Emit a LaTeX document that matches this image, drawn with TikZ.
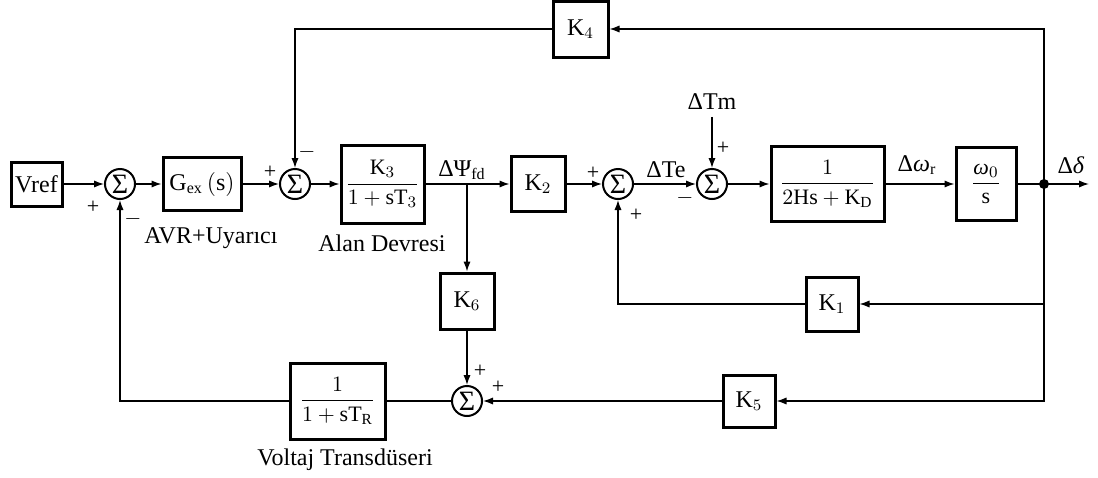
\documentclass[tikz,border=0pt]{standalone}
\usepackage{amsmath}
\usepackage{fontspec}
\setmainfont{Liberation Serif}
\usepackage{tikz}
\usetikzlibrary{
  arrows.meta  % 箭头样式
}

\begin{document}
\begin{tikzpicture}[>={Latex[length=5pt,width=3.6pt]}, x=0.5pt, y=-0.5pt,
  every node/.style={font=\fontsize{12}{14}\selectfont},
  block/.style={draw, line width=1.5pt, inner sep=0pt, fill=white},
  fracbox/.style={block, font=\fontsize{11}{13}\selectfont},
  sumnode/.style={draw, circle, line width=1pt, inner sep=0pt, minimum size=15pt,
    font=\fontsize{14}{14}\selectfont},
  sign/.style={inner sep=0pt, font=\fontsize{11}{11}\selectfont},
  conn/.style={line width=0.65pt}]
  \useasboundingbox (0,0) rectangle (1098,477);

  % 主通道
  \node[block, minimum width=25.5pt, minimum height=22pt] (vref) at (36.5,184) {Vref};
  \node[sumnode] (s1) at (120,184) {Σ};
  \node[block, minimum width=39pt, minimum height=26.5pt] (gex) at (202,184)
    {$\mathrm{G}_{\mathrm{ex}}\,(\mathrm{s})$};
  \node[sumnode] (s2) at (295,184) {Σ};
  \node[fracbox, minimum width=41.5pt, minimum height=39pt] (k3) at (382.5,184)
    {$\dfrac{\mathrm{K}_3}{1+\mathrm{sT}_3}$};
  \coordinate (br1) at (467,184);
  \node[block, minimum width=27pt, minimum height=27.5pt] (k2) at (538,184) {$\mathrm{K}_2$};
  \node[sumnode] (s3) at (618,184) {Σ};
  \node[sumnode] (s4) at (712,184) {Σ};
  \node (tm) at (712,102) {ΔTm};
  \node[fracbox, minimum width=56.5pt, minimum height=37.5pt] (gm) at (827.5,184)
    {$\dfrac{1}{2\mathrm{Hs}+\mathrm{K}_\mathrm{D}}$};
  \node[fracbox, minimum width=30pt, minimum height=36.5pt] (wo) at (986,184)
    {$\dfrac{\text{\itshape ω}_0}{\mathrm{s}}$};
  \coordinate (br2) at (1044,184);
  \coordinate (out) at (1089,184);

  % 反馈环节
  \node[block, minimum width=27.5pt, minimum height=28pt] (k4) at (580.5,29) {$\mathrm{K}_4$};
  \node[block, minimum width=27pt, minimum height=28pt] (k6) at (467,301) {$\mathrm{K}_6$};
  \node[block, minimum width=26pt, minimum height=27pt] (k1) at (832,304) {$\mathrm{K}_1$};
  \node[block, minimum width=26pt, minimum height=26pt] (k5) at (749,401) {$\mathrm{K}_5$};
  \node[sumnode] (s5) at (467,401) {Σ};
  \node[fracbox, minimum width=47.5pt, minimum height=38pt] (tr) at (337.5,401)
    {$\dfrac{1}{1+\mathrm{sT}_\mathrm{R}}$};

  % 连线
  \draw[conn, ->] (vref) -- (s1);
  \draw[conn, ->] (s1) -- (gex);
  \draw[conn, ->] (gex) -- (s2);
  \draw[conn, ->] (s2) -- (k3);
  \draw[conn, ->] (k3) -- (k2);
  \draw[conn, ->] (br1) -- (k6);
  \draw[conn, ->] (k6) -- (s5);
  \draw[conn, ->] (k2) -- (s3);
  \draw[conn, ->] (s3) -- (s4);
  \draw[conn, ->] (tm) -- (s4);
  \draw[conn, ->] (s4) -- (gm);
  \draw[conn, ->] (gm) -- (wo);
  \draw[conn] (wo) -- (br2);
  \draw[conn, ->] (br2) -- (out);
  \fill (br2) circle (2.5pt);
  \draw[conn, ->] (br2) |- (k4);
  \draw[conn, ->] (k4) -| (s2);
  \draw[conn, ->] (br2) |- (k1);
  \draw[conn, ->] (k1) -| (s3);
  \draw[conn, ->] (br2) |- (k5);
  \draw[conn, ->] (k5) -- (s5);
  \draw[conn] (s5) -- (tr);
  \draw[conn, ->] (tr) -| (s1);

  % 符号
  \node[sign] (s1a) at (93,207) {+};
  \node[sign] (s1b) at (133,219) {$-$};
  \node[sign] (s2a) at (270,172) {+};
  \node[sign] (s2b) at (307,152) {$-$};
  \node[sign] (s3a) at (593,173) {+};
  \node[sign] (s3b) at (636,215) {+};
  \node[sign] (s4a) at (723,148) {+};
  \node[sign] (s4b) at (685,198) {$-$};
  \node[sign] (s5a) at (480,371) {+};
  \node[sign] (s5b) at (498,387) {+};

  % 信号与方框说明
  \node (psi) at (462,170) {ΔΨ\textsubscript{fd}};
  \node (te) at (666,170) {ΔTe};
  \node (wr) at (917,165) {Δ\textit{ω}\textsubscript{r}};
  \node (dl) at (1071,165) {Δ\textit{δ}};
  \node (avr) at (211,238) {AVR+Uyarıcı};
  \node (alan) at (382,243) {Alan Devresi};
  \node (volt) at (345,460) {Voltaj Transdüseri};
\end{tikzpicture}
\end{document}
